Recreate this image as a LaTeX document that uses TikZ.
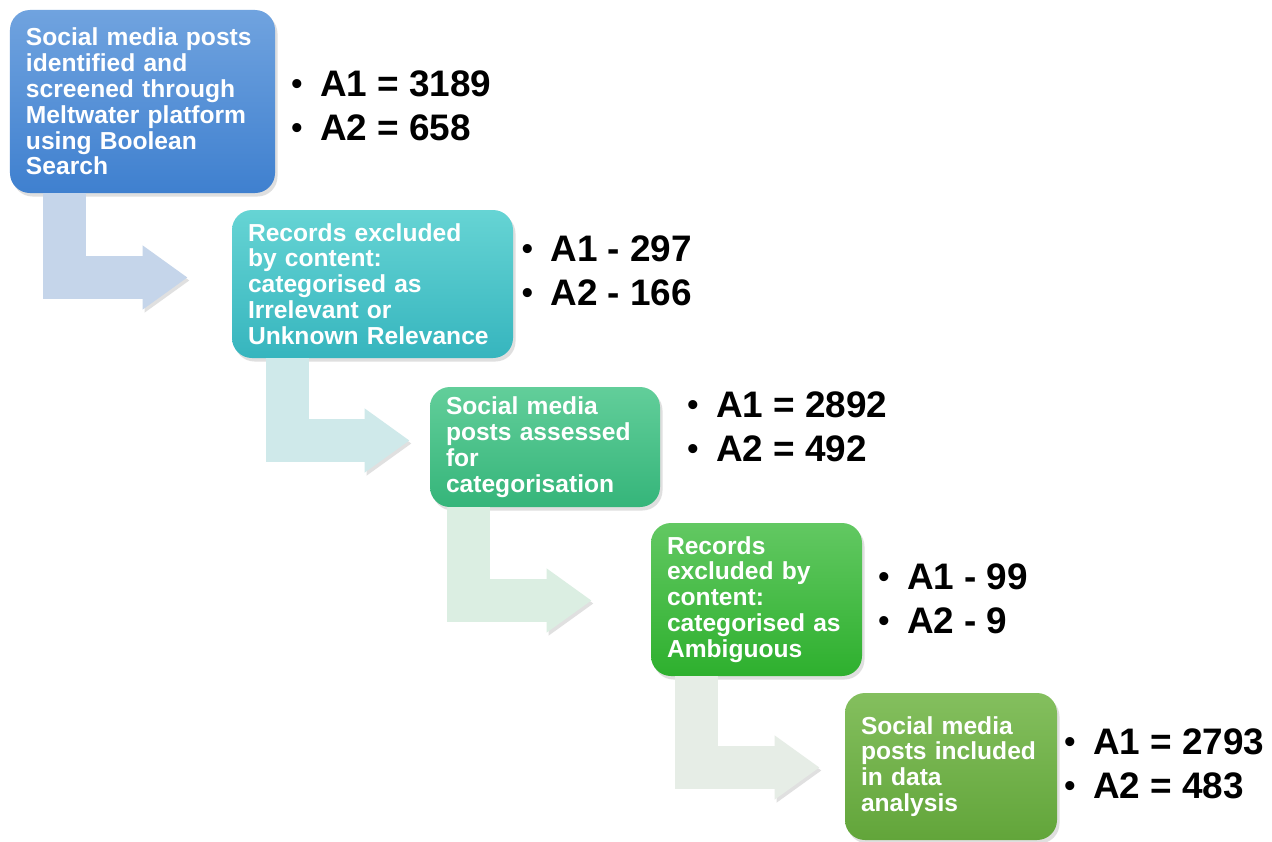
\documentclass[tikz,border=0pt]{standalone}
\usepackage{fontspec}
\setmainfont{Liberation Sans}
\usetikzlibrary{arrows.meta,shadows}
\definecolor{blueT}{HTML}{70A3DF}
\definecolor{blueB}{HTML}{3F80CF}
\definecolor{tealT}{HTML}{66D4D4}
\definecolor{tealB}{HTML}{36B5BE}
\definecolor{mintT}{HTML}{62CE9A}
\definecolor{mintB}{HTML}{35B57A}
\definecolor{greenT}{HTML}{62C862}
\definecolor{greenB}{HTML}{2EB02E}
\definecolor{oliveT}{HTML}{84BF5E}
\definecolor{oliveB}{HTML}{62A53A}
\definecolor{arrowA}{HTML}{C5D5EA}
\definecolor{arrowB}{HTML}{CFE9EA}
\definecolor{arrowC}{HTML}{DBEEE2}
\definecolor{arrowD}{HTML}{E6EDE6}
\newcommand{\countdot}{\raisebox{1pt}{\fontsize{18}{18}\selectfont\textbullet}\hspace{10pt}}

\begin{document}
\begin{tikzpicture}[x=0.2mm, y=-0.2mm,
        stepbox/.style={rounded corners=4mm, text=white, align=left, inner xsep=3.2mm, inner ysep=1mm,
            font=\bfseries\fontsize{14}{14.7}\selectfont,
            drop shadow={opacity=0.25, shadow xshift=0.5mm, shadow yshift=-0.7mm}},
        count/.style={anchor=west, inner sep=0pt, align=left, font=\bfseries\fontsize{21}{25}\selectfont},
        flow/.style={line width=8.6mm, line join=miter, -{Triangle[length=9mm, width=12.2mm]},
            preaction={draw=black!60, draw opacity=0.2, transform canvas={xshift=0.4mm, yshift=-0.6mm}}}]
        \path[use as bounding box, fill=white] (0,0) rectangle (1272,841);
        % The five steps, top left to bottom right.
            \node[stepbox, top color=blueT, bottom color=blueB, text width=46.6mm, minimum height=36.6mm] (b1) at (142.5,101.5)
                {Social media posts\\identified and\\screened through\\Meltwater platform\\using Boolean\\Search};
            \node[stepbox, top color=tealT, bottom color=tealB, text width=49.8mm, minimum height=29.6mm] (b2) at (372.5,284)
                {Records excluded\\by content:\\categorised as\\Irrelevant or\\Unknown Relevance};
            \node[stepbox, top color=mintT, bottom color=mintB, text width=39.6mm, minimum height=24mm] (b3) at (545,447)
                {Social media\\posts assessed\\for\\categorisation};
            \node[stepbox, top color=greenT, bottom color=greenB, text width=35.8mm, minimum height=30.6mm] (b4) at (756.5,599.5)
                {Records\\excluded by\\content:\\categorised as\\Ambiguous};
            \node[stepbox, top color=oliveT, bottom color=oliveB, text width=36mm, minimum height=29.4mm] (b5) at (951,766.5)
                {Social media\\posts included\\in data\\analysis};
        % Below nodes are the counts.
            \node[count] (n1) at (291,105.5) {\countdot A1 = 3189\\\countdot A2 = 658};
            \node[count] (n2) at (521.5,270.5) {\countdot A1 - 297\\\countdot A2 - 166};
            \node[count] (n3) at (687,426.5) {\countdot A1 = 2892\\\countdot A2 = 492};
            \node[count] (n4) at (878,599) {\countdot A1 - 99\\\countdot A2 - 9};
            \node[count] (n5) at (1064,763.5) {\countdot A1 = 2793\\\countdot A2 = 483};
        % The bent arrows between the steps.
            \draw[flow, draw=arrowA, shorten >=8.8mm] ([xshift=11mm]b1.south west) |- ([yshift=1.3mm]b2.west);
            \draw[flow, draw=arrowB, shorten >=4mm] ([xshift=11.1mm]b2.south west) |- ([yshift=1.3mm]b3.west);
            \draw[flow, draw=arrowC, shorten >=11.8mm] ([xshift=7.8mm]b3.south west) |- ([yshift=-0.2mm]b4.west);
            \draw[flow, draw=arrowD, shorten >=5mm] ([xshift=9.1mm]b4.south west) |- ([yshift=-0.2mm]b5.west);
    \end{tikzpicture}
\end{document}
